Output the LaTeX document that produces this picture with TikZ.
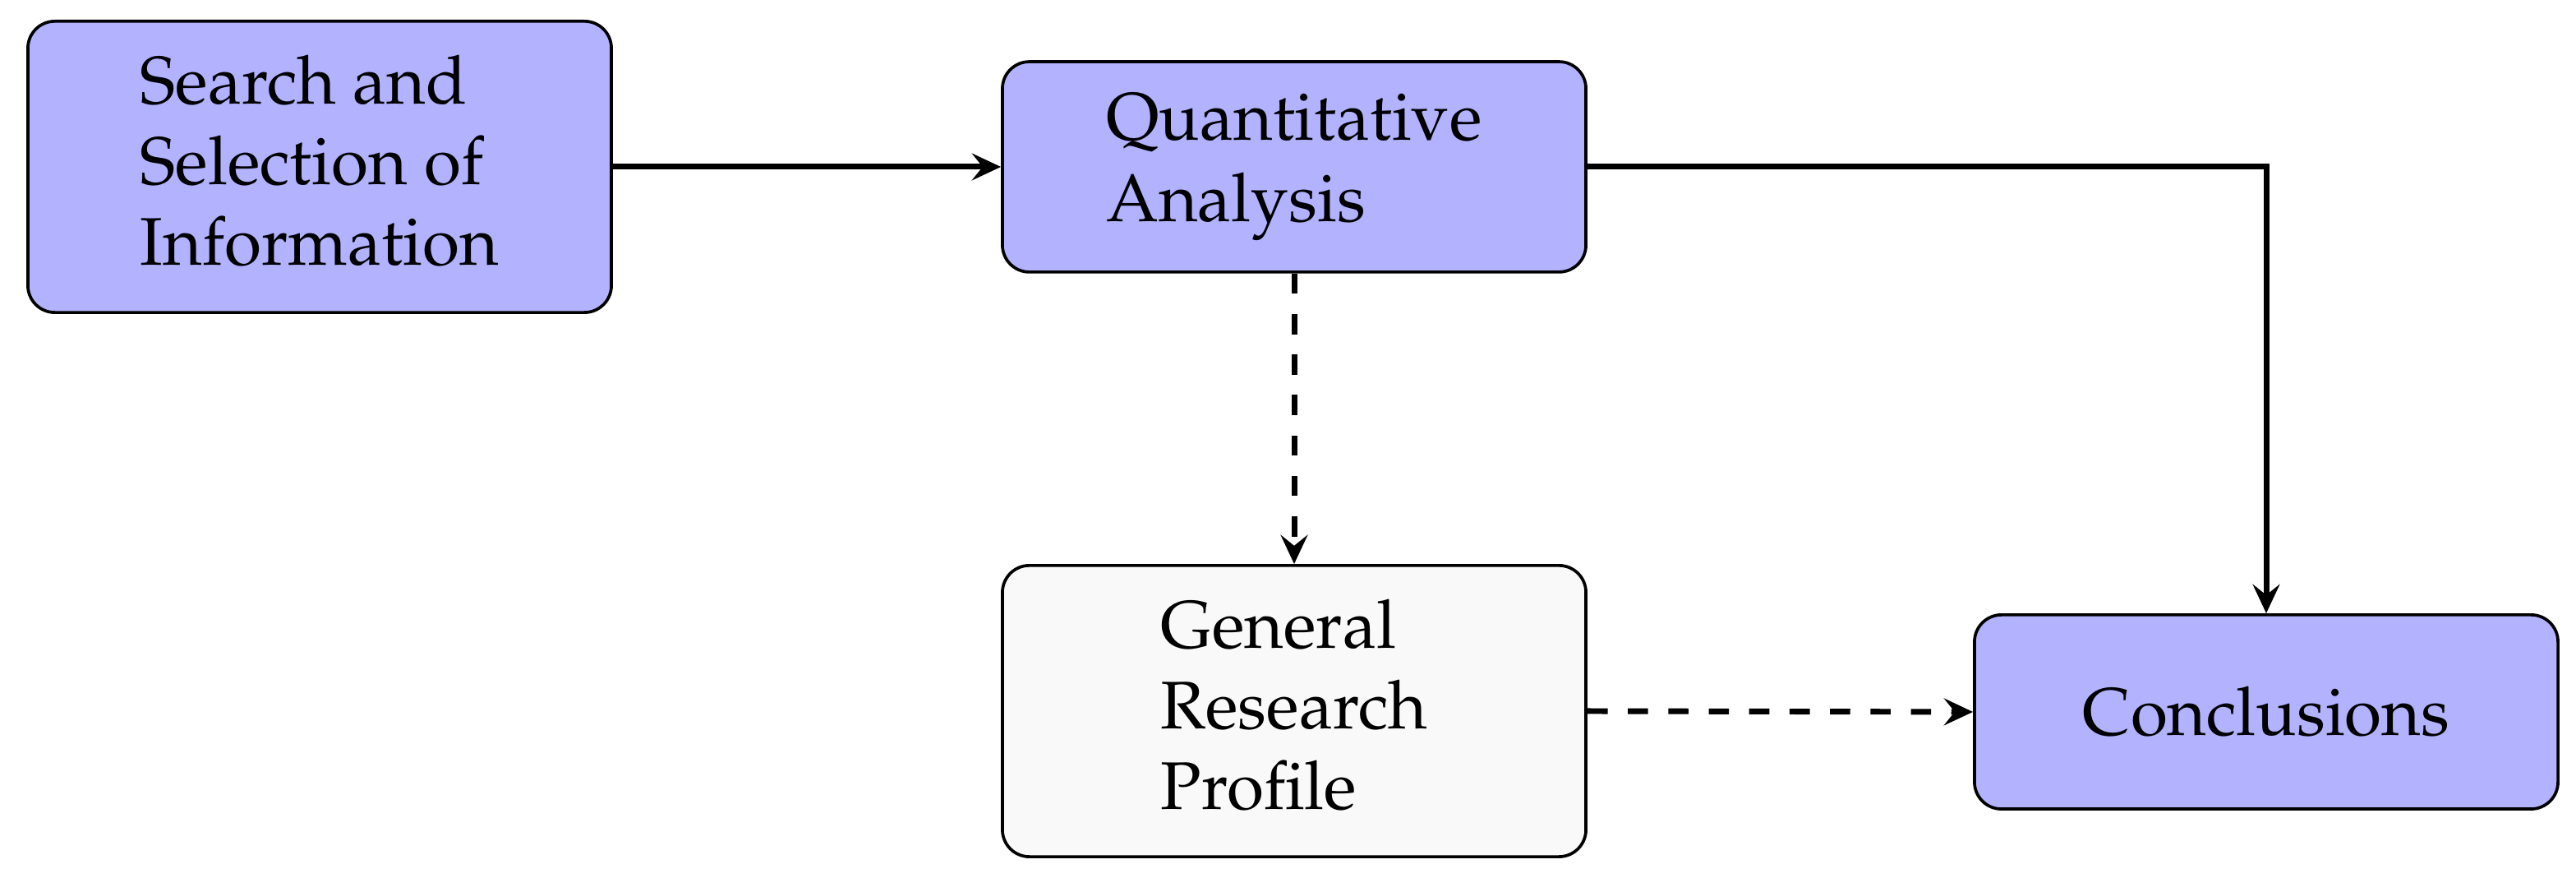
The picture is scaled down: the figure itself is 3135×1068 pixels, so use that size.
\documentclass[tikz,border=0pt]{standalone}
\usepackage[T1]{fontenc}
\usepackage{mathpazo}
\usetikzlibrary{arrows.meta}
\newcommand{\lowpad}{\rule[-2pt]{0pt}{2pt}}
\begin{document}
\begin{tikzpicture}[x=0.12195pt,y=-0.12195pt,
  box/.style={draw=black, line width=0.45pt, rounded corners=4pt, align=left,
    minimum width=86.6pt, inner sep=0pt, font=\fontsize{10}{12}\selectfont},
  bluebox/.style={box, fill=blue!30},
  graybox/.style={box, fill=gray!5},
  conn/.style={line width=0.85pt, -{Stealth[length=4.3pt,width=4pt,inset=1.6pt]}},
]
\useasboundingbox (0,0) rectangle (3135,1068);
\node[bluebox, minimum height=43.2pt] (search) at (389,203) {Search and\\Selection of\\Information\lowpad};
\node[bluebox, minimum height=31.2pt] (quant) at (1575,203) {Quantitative\\Analysis};
\node[graybox, minimum height=43.2pt] (profile) at (1575,865) {General\\Research\\Profile\lowpad};
\node[bluebox, minimum height=28.8pt] (concl) at (2758,866) {Conclusions};
\draw[conn] (search.east) -- (quant.west);
\draw[conn] (quant.east) -| (concl.north);
\draw[conn, dashed] (quant.south) -- (profile.north);
\draw[conn, dashed] (profile.east) -- (concl.west);
\end{tikzpicture}
\end{document}
